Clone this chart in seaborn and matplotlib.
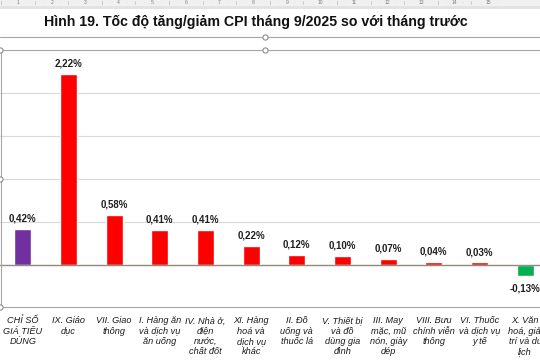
import numpy as np
import pandas as pd
import matplotlib
matplotlib.use("Agg")
import matplotlib.pyplot as plt
import seaborn as sns

# data
categories = [
    "CHỈ SỐ\nGIÁ TIÊU\nDÙNG",
    "IX. Giáo\ndục",
    "VII. Giao\nthông",
    "I. Hàng ăn\nvà dịch vụ\năn uống",
    "IV. Nhà ở,\nđiện\nnước,\nchất đốt",
    "XI. Hàng\nhoá và\ndịch vụ\nkhác",
    "II. Đồ\nuống và\nthuốc lá",
    "V. Thiết bị\nvà đồ\ndùng gia\nđình",
    "III. May\nmặc, mũ\nnón, giày\ndép",
    "VIII. Bưu\nchính viễn\nthông",
    "VI. Thuốc\nvà dịch vụ\ny tế",
    "X. Văn\nhoá, giải\ntrí và du\nlịch",
]
values = [0.42, 2.22, 0.58, 0.41, 0.41, 0.22, 0.12, 0.10, 0.07, 0.04, 0.03, -0.13]
value_labels = ["0,42%", "2,22%", "0,58%", "0,41%", "0,41%", "0,22%",
                "0,12%", "0,10%", "0,07%", "0,04%", "0,03%", "-0,13%"]
bar_colors = ["#7030A0"] + ["#FF0000"] * 10 + ["#00B050"]
ruler_numbers = list(range(1, 16))

sns.set_theme(style="white")
plt.rcParams["font.family"] = ["Liberation Sans", "DejaVu Sans"]

fig = plt.figure(figsize=(5.4, 3.6), dpi=100, facecolor="white")

# chart area (extends slightly past right edge, as in the screenshot)
ax = fig.add_axes([0.0, 52 / 360, 548 / 540, 258 / 360])
df = pd.DataFrame({"cat": categories, "val": values})
sns.barplot(data=df, x="cat", y="val", hue="cat", palette=bar_colors,
            legend=False, width=0.37, saturation=1, ax=ax, order=categories)
ax.set_ylim(-0.5, 2.5)
ax.set_xlim(-0.5, 11.5)
for g in [0.5, 1.0, 1.5, 2.0]:
    ax.axhline(g, color="#D9D9D9", lw=0.8, zorder=0)
ax.axhline(0, color="#8F8A7C", lw=1.0, zorder=3)
for s in ax.spines.values():
    s.set_visible(False)
ax.set_yticks([])
ax.set_xlabel("")
ax.set_ylabel("")
ax.tick_params(axis="x", length=0, pad=6)
ax.set_xticks(range(len(categories)))
ax.set_xticklabels(categories, fontsize=6.6, style="italic", color="#1A1A1A",
                   linespacing=1.18, va="top")

for i, (v, lab) in enumerate(zip(values, value_labels)):
    off = 7.5 if v >= 0 else -9
    ax.annotate(lab, (i, v), xytext=(0, off), textcoords="offset points",
                ha="center", va="center", fontsize=7.0, fontweight="bold",
                color="#1F1F1F")

# overlay for the document decorations (ruler, frame, handles)
ov = fig.add_axes([0, 0, 1, 1], zorder=10)
ov.set_xlim(0, 540)
ov.set_ylim(360, 0)
ov.axis("off")
ov.patch.set_alpha(0)
ov.add_patch(plt.Rectangle((0, 0), 540, 6, color="#F0F0F0", lw=0))
ov.add_patch(plt.Rectangle((0, 6), 540, 3, color="#E3E3E3", lw=0))
for k in ruler_numbers:
    x = 18 + (k - 1) * 33.6
    ov.text(x, 3, str(k), fontsize=3.6, color="#7F7F7F", ha="center", va="center")
    for d in (-16.8, 8.4, -8.4):
        ov.text(x + d, 3, "|" if d == -16.8 else "·", fontsize=3, color="#9A9A9A",
                ha="center", va="center")

ov.text(256, 22, "Hình 19. Tốc độ tăng/giảm CPI tháng 9/2025 so với tháng trước",
        fontsize=10.2, fontweight="bold", ha="center", va="center", color="#111111")

ov.plot([0, 540], [37, 37], color="#A6A6A6", lw=0.8)
ov.plot([0, 540], [50, 50], color="#A6A6A6", lw=0.8)
ov.plot([0, 540], [307, 307], color="#A6A6A6", lw=0.8)
ov.plot([0.5, 0.5], [50, 307], color="#A6A6A6", lw=0.8)
hx = [265, 0, 265, 0, 0]
hy = [37, 50, 50, 179, 307]
ov.scatter(hx, hy, s=14, facecolor="white", edgecolor="#8C8C8C", lw=0.8, zorder=12)

fig.savefig("out.png", dpi=100, facecolor="white")
